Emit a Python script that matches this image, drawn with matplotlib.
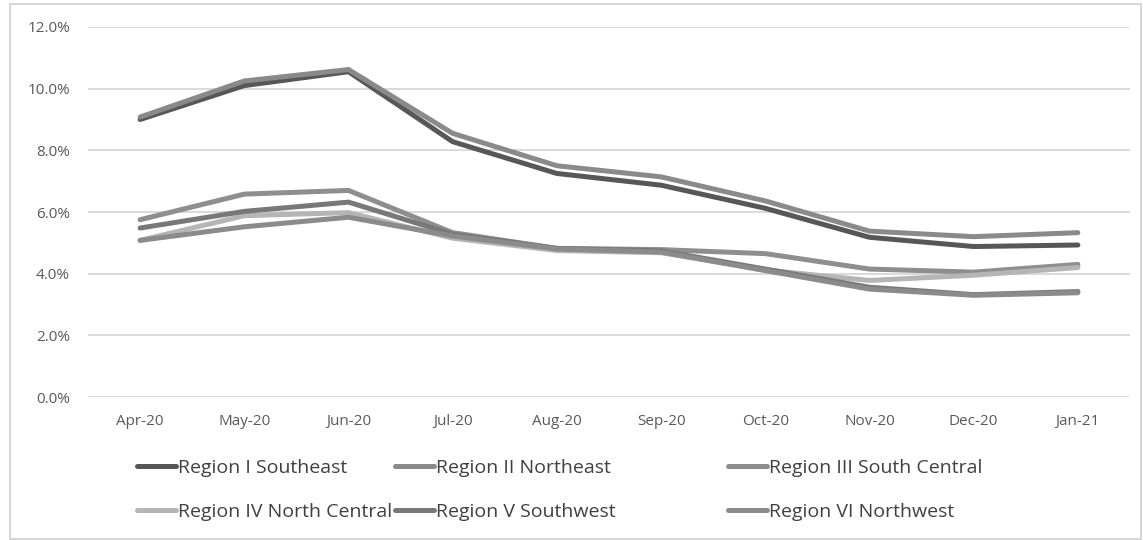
import matplotlib.pyplot as plt
from matplotlib.patches import Rectangle
from matplotlib.ticker import PercentFormatter

plt.rcParams['font.family'] = ['Open Sans', 'DejaVu Sans']

months = ['Apr-20', 'May-20', 'Jun-20', 'Jul-20', 'Aug-20',
          'Sep-20', 'Oct-20', 'Nov-20', 'Dec-20', 'Jan-21']

region_1 = [9.00, 10.10, 10.55, 8.28, 7.25, 6.87, 6.12, 5.18, 4.88, 4.93]
region_2 = [9.08, 10.25, 10.62, 8.55, 7.50, 7.14, 6.36, 5.38, 5.20, 5.33]
region_3 = [5.75, 6.58, 6.70, 5.33, 4.82, 4.78, 4.65, 4.15, 4.05, 4.30]
region_4 = [5.08, 5.88, 5.98, 5.15, 4.75, 4.68, 4.12, 3.78, 3.95, 4.20]
region_5 = [5.48, 6.02, 6.32, 5.28, 4.82, 4.74, 4.15, 3.56, 3.32, 3.42]
region_6 = [5.08, 5.52, 5.83, 5.22, 4.80, 4.70, 4.10, 3.50, 3.30, 3.38]

names = ['Region I Southeast', 'Region II Northeast', 'Region III South Central',
         'Region IV North Central', 'Region V Southwest', 'Region VI Northwest']
series = [region_1, region_2, region_3, region_4, region_5, region_6]
colors = ['#575757', '#8a8a8a', '#8e8e8e', '#b5b5b5', '#787878', '#8b8b8b']

fig = plt.figure(figsize=(11.43, 5.4), dpi=100)
ax = fig.add_axes([0.077, 0.2648, 0.9116, 0.6852])

# outer chart border
fig.patches.append(Rectangle((10 / 1143, 1 / 540), 1131 / 1143, 535 / 540,
                             transform=fig.transFigure, fill=False,
                             edgecolor='#d0d0d0', linewidth=1.2))

x = list(range(len(months)))
lines = []
for vals, name, col in zip(series, names, colors):
    ln, = ax.plot(x, vals, color=col, linewidth=3.6, label=name,
                  solid_capstyle='round', solid_joinstyle='round')
    lines.append(ln)

ax.set_xlim(-0.5, len(months) - 0.5)
ax.set_ylim(0, 12)
ax.set_yticks([0, 2, 4, 6, 8, 10, 12])
ax.yaxis.set_major_formatter(PercentFormatter(decimals=1))
ax.set_xticks(x)
ax.set_xticklabels(months)
ax.grid(axis='y', color='#d9d9d9', linewidth=1.4)
ax.set_axisbelow(True)
for s in ax.spines.values():
    s.set_visible(False)
ax.tick_params(axis='both', length=0, colors='#595959', labelsize=11)
ax.tick_params(axis='y', pad=13)
ax.tick_params(axis='x', pad=12)

# legend: 3 columns laid out like Excel (row by row), one legend per column
col_left = [137, 395, 728]
for c, left in enumerate(col_left):
    idx = [c, c + 3]
    leg = fig.legend([lines[i] for i in idx], [names[i] for i in idx],
                     loc='upper left', bbox_to_anchor=(left / 1143, 0.15),
                     frameon=False, fontsize=14, handlelength=2.0,
                     handletextpad=0.1, labelspacing=1.35,
                     borderpad=0, borderaxespad=0)
    for t in leg.get_texts():
        t.set_color('#404040')

fig.savefig('out.png', dpi=100)
